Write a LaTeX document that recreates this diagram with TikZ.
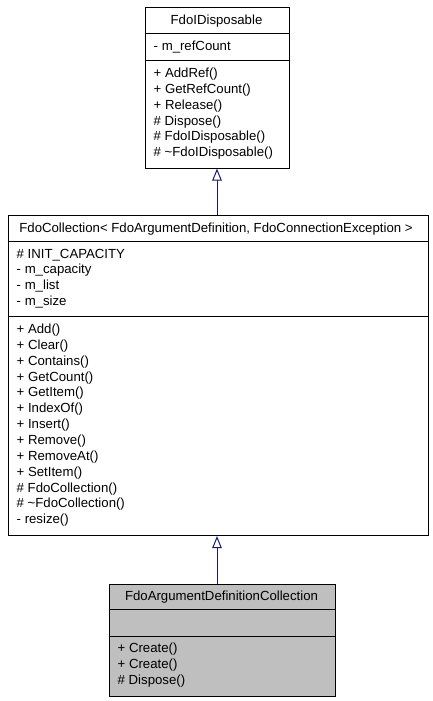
\documentclass[tikz,border=0pt]{standalone}
\usepackage{fontspec}
\setmainfont{Liberation Sans}
\usetikzlibrary{arrows.meta}
\definecolor{edgeblue}{HTML}{191970}
\definecolor{classgray}{HTML}{BFBFBF}

\begin{document}
\begin{tikzpicture}[x=1pt,y=-1pt,font=\fontsize{13.2}{16}\selectfont,
  classbox/.style={draw,line width=1pt,inner sep=0pt,anchor=north west},
  member/.style={anchor=base west,inner sep=0pt},
  classname/.style={anchor=base,inner sep=0pt},
  inherit/.style={edgeblue,line width=1pt,-{Triangle[open,length=12pt,width=9.5pt]}}]
  \useasboundingbox (0,0) rectangle (432,701);

  % FdoIDisposable
  \node[classbox,minimum width=144pt,minimum height=160pt] (disp) at (144.5,7.5) {};
  \draw[line width=1pt] (144.5,33.5) -- (288.5,33.5);
  \draw[line width=1pt] (144.5,61) -- (288.5,61);
  \node[classname] (disp-name) at (216.5,24.5) {FdoIDisposable};
  \node[member] (disp-attr0) at (153.5,50.5) {- m\_refCount};
  \foreach \lab [count=\i from 0] in {+ AddRef(),+ GetRefCount(),+ Release(),
      \# Dispose(),\# FdoIDisposable(),\# \textasciitilde FdoIDisposable()} {
    \node[member] (disp-op\i) at (153.5,77.5+15.85*\i) {\lab};
  }

  % FdoCollection
  \node[classbox,minimum width=420pt,minimum height=320pt] (coll) at (7.5,215) {};
  \draw[line width=1pt] (7.5,241) -- (427.5,241);
  \draw[line width=1pt] (7.5,316.5) -- (427.5,316.5);
  \node[classname] (coll-name) at (216,232)
    {FdoCollection< FdoArgumentDefinition, FdoConnectionException >};
  \foreach \lab [count=\i from 0] in {\# INIT\_CAPACITY,- m\_capacity,- m\_list,- m\_size} {
    \node[member] (coll-attr\i) at (16.5,258+15.85*\i) {\lab};
  }
  \foreach \lab [count=\i from 0] in {+ Add(),+ Clear(),+ Contains(),+ GetCount(),
      + GetItem(),+ IndexOf(),+ Insert(),+ Remove(),+ RemoveAt(),+ SetItem(),
      \# FdoCollection(),\# \textasciitilde FdoCollection(),- resize()} {
    \node[member] (coll-op\i) at (16.5,333.5+15.85*\i) {\lab};
  }

  % FdoArgumentDefinitionCollection
  \node[classbox,fill=classgray,minimum width=226pt,minimum height=112pt] (argdefs) at (108.5,583.5) {};
  \draw[line width=1pt] (108.5,609) -- (334.5,609);
  \draw[line width=1pt] (108.5,636) -- (334.5,636);
  \node[classname] (argdefs-name) at (221.5,600.5) {FdoArgumentDefinitionCollection};
  \foreach \lab [count=\i from 0] in {+ Create(),+ Create(),\# Dispose()} {
    \node[member] (argdefs-op\i) at (117.5,652.5+15.85*\i) {\lab};
  }

  \draw[inherit] (coll.north -| disp.south) -- (disp.south);
  \draw[inherit] (argdefs.north -| disp.south) -- (coll.south -| disp.south);
\end{tikzpicture}
\end{document}
